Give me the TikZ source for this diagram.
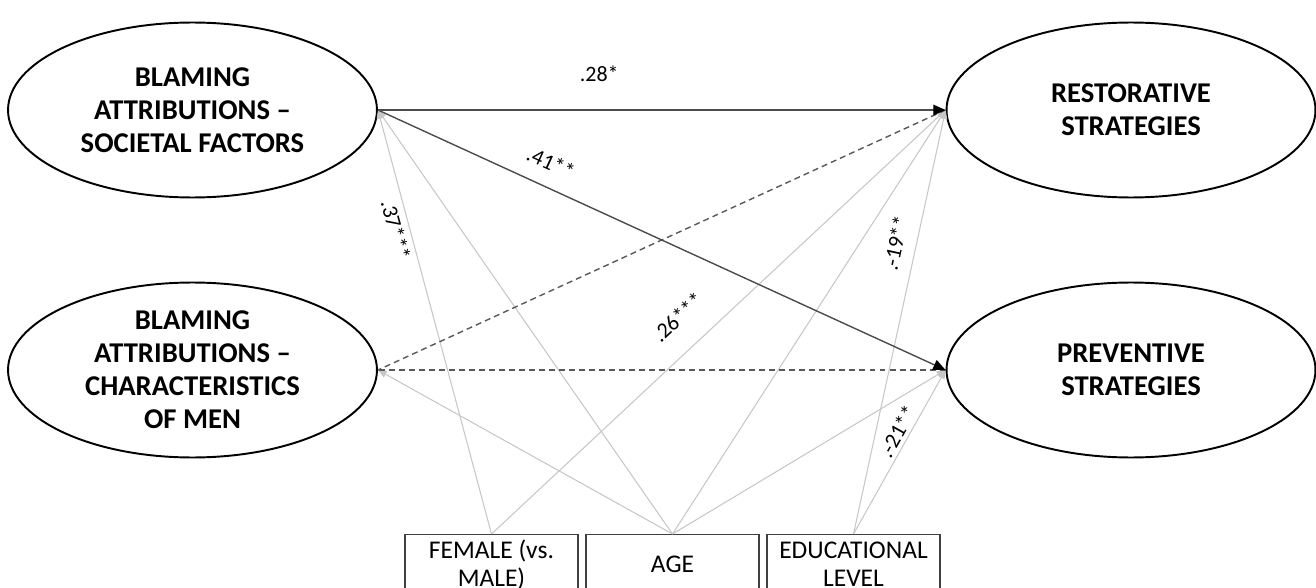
\documentclass[tikz,border=0pt]{standalone}
\usepackage{fontspec}
\setmainfont{Carlito}
\usetikzlibrary{arrows.meta,shapes.geometric}

\begin{document}
\begin{tikzpicture}[x=0.02cm, y=-0.02cm,
    latent/.style={draw, ellipse, line width=1.1pt, minimum width=7.38cm,
        minimum height=3.5cm, align=center, inner sep=0pt,
        font=\fontsize{16.3}{18.8}\selectfont\bfseries},
    covar/.style={draw=black!75, line width=0.6pt, anchor=north, minimum width=3.46cm,
        minimum height=1.2cm, align=center, inner sep=1pt,
        font=\fontsize{14.5}{16}\selectfont},
    effect/.style={draw=black!70, line width=0.8pt,
        -{Triangle[length=7pt,width=6pt,color=black]}},
    control/.style={draw=black!22, line width=0.6pt,
        -{Triangle[length=5pt,width=4pt]}},
    corr/.style={draw=black!65, line width=0.8pt, dash pattern=on 3.4pt off 2.3pt},
    coef/.style={font=\fontsize{12.5}{14}\selectfont, sloped, inner sep=1pt}
]
    \clip (0,0) rectangle (1316,588);

    \node[latent] (societal) at (192.5,110) {BLAMING\\ATTRIBUTIONS --\\SOCIETAL FACTORS};
    \node[latent] (character) at (192.5,370) {BLAMING\\ATTRIBUTIONS --\\CHARACTERISTICS\\OF MEN};
    \node[latent] (restore) at (1131,110) {RESTORATIVE\\STRATEGIES};
    \node[latent] (prevent) at (1131,370) {PREVENTIVE\\STRATEGIES};

    \node[covar] (female) at (491.5,534) {FEMALE (vs.\\MALE)};
    \node[covar] (age) at (672.5,534) {AGE};
    \node[covar] (edu) at (853.5,534) {EDUCATIONAL\\LEVEL};

    % controls
    \draw[control] (female.north) -- node[coef, pos=0.725, below=2pt] {.37***} (societal.east);
    \draw[control] (female.north) -- node[coef, pos=0.457, above=12pt] {.26***} (restore.west);
    \draw[control] (age.north) -- (societal.east);
    \draw[control] (age.north) -- (character.east);
    \draw[control] (age.north) -- (restore.west);
    \draw[control] (age.north) -- (prevent.west);
    \draw[control] (edu.north) -- node[coef, pos=0.676, above=6pt] {.-19**} (restore.west);
    \draw[control] (edu.north) -- node[coef, pos=0.59, above=1pt] {.-21**} (prevent.west);

    % correlations
    \draw[corr] (restore.west) -- (character.east);
    \draw[corr] (prevent.west) -- (character.east);

    % main paths
    \draw[effect] (societal.east) -- node[coef, pos=0.39, above=15pt] {.28*} (restore.west);
    \draw[effect] (societal.east) -- node[coef, pos=0.287, above=8pt] {.41**} (prevent.west);
\end{tikzpicture}
\end{document}
